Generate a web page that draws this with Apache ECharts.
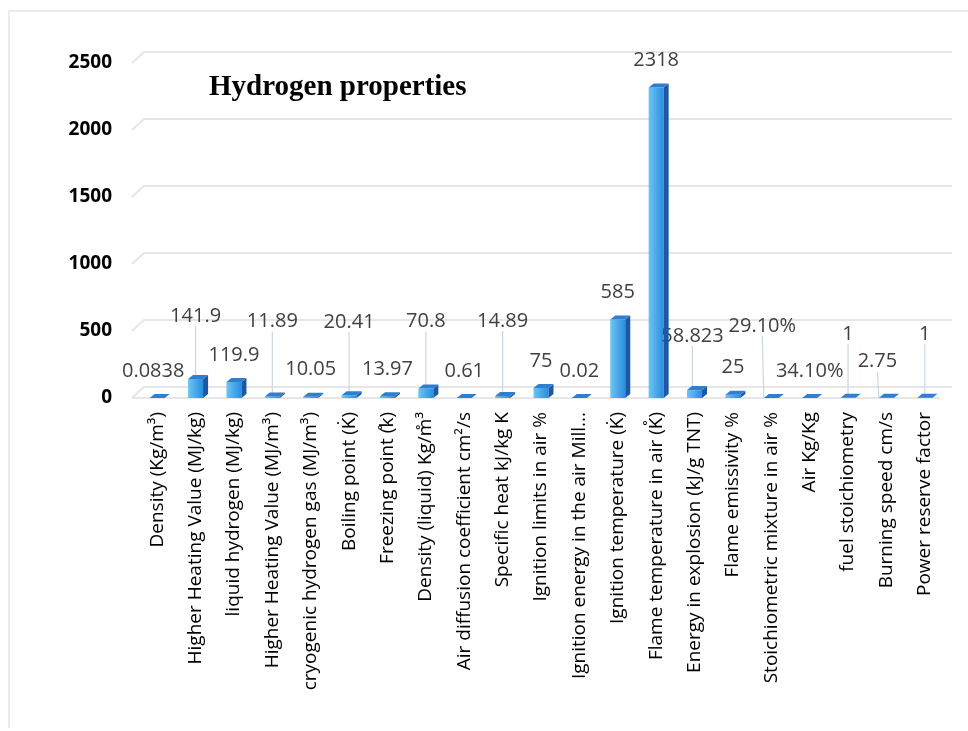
<!DOCTYPE html>
<html>
<head>
<meta charset="utf-8">
<script src="https://cdn.jsdelivr.net/npm/echarts@6/dist/echarts.min.js"></script>
<style>
  html, body { margin: 0; padding: 0; background: #fff; }
  #chart { width: 968px; height: 731px; }
</style>
</head>
<body>
<div id="chart"></div>
<script>
var categories = [
  "Density (Kg/m³)",
  "Higher Heating Value (MJ/kg)",
  "liquid hydrogen (MJ/kg)",
  "Higher Heating Value (MJ/m³)",
  "cryogenic hydrogen gas (MJ/m³)",
  "Boiling point (K̇)",
  "Freezing point (̊k)",
  "Density (liquid) Kg/m̊³",
  "Air diffusion coefficient cm²/s",
  "Specific heat kJ/kg K",
  "Ignition limits in air %",
  "Ignition energy in the air Mill...",
  "Ignition temperature (K̇)",
  "Flame temperature in air (K̊)",
  "Energy in explosion (kJ/g TNT)",
  "Flame emissivity %",
  "Stoichiometric mixture in air %",
  "Air Kg/Kg",
  "fuel stoichiometry",
  "Burning speed cm/s",
  "Power reserve factor"
];
var values = [0.0838, 141.9, 119.9, 11.89, 10.05, 20.41, 13.97, 70.8, 0.61, 14.89,
  75, 0.02, 585, 2318, 58.823, 25, 0.291, 0.341, 1, 2.75, 1];
var valueLabels = ["0.0838", "141.9", "119.9", "11.89", "10.05", "20.41", "13.97", "70.8",
  "0.61", "14.89", "75", "0.02", "585", "2318", "58.823", "25", "29.10%", "34.10%",
  "1", "2.75", "1"];
var yTicks = [0, 500, 1000, 1500, 2000, 2500];

// label placement (pixel offsets of the data labels, as in the source figure)
var labelLift = [0, -36, 0, -48, 0, -46, 0, -40, 0, -48, 0, 0, 0, 0, -27, 0, -45, 0, -37, -9, -37];
var labelShift = [-4, 0, 0, 0, 0, 0, 0, 0, 0, 0, 0, 0, 0, 0, -2, 0, -9, 0, 0, -9, 0];

var HW = 7.5, DX = 5, DY = 4;

var myChart = echarts.init(document.getElementById("chart"), null, { renderer: "canvas" });

myChart.setOption({
  animation: false,
  backgroundColor: "#fff",
  title: {
    text: "Hydrogen properties",
    left: 204,
    top: 68,
    textStyle: { fontFamily: "Liberation Serif", fontWeight: "bold", fontSize: 29, color: "#000" }
  },
  graphic: [{
    type: "polyline",
    shape: { points: [[9, 728], [9, 11], [968, 11]] },
    style: { stroke: "#ececec", lineWidth: 2, fill: null },
    silent: true
  }],
  grid: { left: 138, right: 24, top: 63, bottom: 333 },
  xAxis: {
    type: "category",
    data: categories,
    axisLine: { show: false },
    axisTick: { show: false },
    axisLabel: {
      interval: 0,
      rotate: 90,
      margin: 14,
      fontFamily: "Open Sans",
      fontSize: 19,
      color: "#000"
    }
  },
  yAxis: {
    type: "value",
    min: 0,
    max: 2500,
    interval: 500,
    splitLine: { show: false },
    axisLine: { show: false },
    axisTick: { show: false },
    axisLabel: {
      margin: 26,
      fontFamily: "Open Sans",
      fontWeight: "bold",
      fontSize: 19,
      color: "#000",
      formatter: function (v) { return String(v); }
    }
  },
  series: [
    {
      // back wall grid lines
      type: "custom",
      silent: true,
      z: 1,
      data: yTicks.map(function (v) { return [0, v]; }),
      renderItem: function (params, api) {
        var p = api.coord([0, api.value(1)]);
        var gx = params.coordSys.x, gw = params.coordSys.width;
        var children = [{
          type: "polyline",
          shape: { points: [[gx - 6, p[1]], [gx + 6, p[1] - 11], [gx + gw + 8, p[1] - 11]] },
          style: { stroke: "#e6e6e6", lineWidth: 2, fill: null }
        }];
        if (api.value(1) === 0) {
          children.push({
            type: "line",
            shape: { x1: gx - 6, y1: p[1], x2: gx + gw - 4, y2: p[1] },
            style: { stroke: "#e6e6e6", lineWidth: 2 }
          });
        }
        return { type: "group", children: children };
      }
    },
    {
      // side and top faces of the 3D columns
      type: "custom",
      silent: true,
      z: 3,
      data: values.map(function (v, i) { return [i, v]; }),
      renderItem: function (params, api) {
        var top = api.coord([api.value(0), api.value(1)]);
        var base = api.coord([api.value(0), 0]);
        var x = top[0];
        return {
          type: "group",
          children: [
            {
              type: "polygon",
              shape: { points: [[x + HW, top[1]], [x + HW + DX, top[1] - DY], [x + HW + DX, base[1] - DY], [x + HW, base[1]]] },
              style: { fill: "#1d58a3" }
            },
            {
              type: "polygon",
              shape: { points: [[x - HW, top[1]], [x + HW, top[1]], [x + HW + DX, top[1] - DY], [x - HW + DX, top[1] - DY]] },
              style: { fill: "#2f7fd0" }
            }
          ]
        };
      }
    },
    {
      type: "bar",
      barWidth: 15,
      z: 2,
      data: values.map(function (v, i) {
        return { value: v, labelLine: { show: labelLift[i] < 0 } };
      }),
      itemStyle: {
        color: new echarts.graphic.LinearGradient(0, 0, 1, 0, [
          { offset: 0, color: "#6cc5f3" },
          { offset: 1, color: "#2a8ddf" }
        ])
      },
      label: {
        show: true,
        position: "top",
        distance: 17,
        fontFamily: "Open Sans",
        fontSize: 20,
        color: "#404040",
        formatter: function (p) { return valueLabels[p.dataIndex]; }
      },
      labelLine: {
        show: false,
        lineStyle: { color: "#cdd6df", width: 1.2 }
      },
      labelLayout: function (p) {
        return { dx: labelShift[p.dataIndex], dy: labelLift[p.dataIndex] };
      }
    }
  ]
});

window.addEventListener("resize", function () { myChart.resize(); });
</script>
</body>
</html>
